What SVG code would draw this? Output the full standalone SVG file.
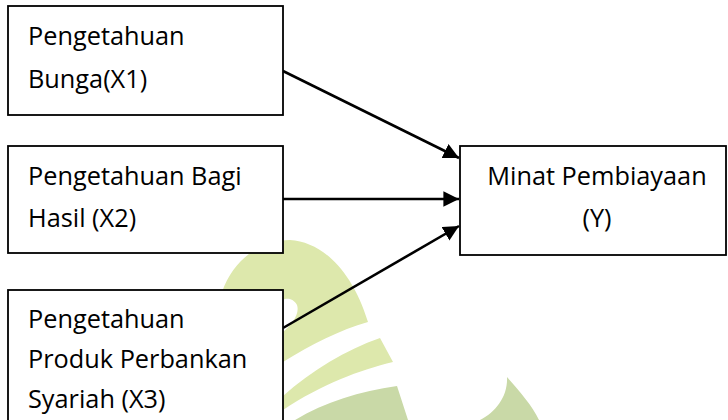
<svg xmlns="http://www.w3.org/2000/svg" width="728" height="420" viewBox="0 0 728 420">
<defs>
<style>
.box{fill:#ffffff;stroke:#000000;stroke-width:1.8}
.t{font-family:"Open Sans","Noto Sans","Liberation Sans",sans-serif;font-size:25.3px;fill:#000000}
.c{stroke:#000000;stroke-width:2.6;fill:none}
.wm1{fill:#dde8ac}
.wm2{fill:#c9d9a7}
</style>
<marker id="ah" viewBox="0 0 10 10" refX="10" refY="5" markerWidth="6" markerHeight="6" markerUnits="strokeWidth" orient="auto">
<path d="M0,0 L10,5 L0,10 Z" fill="#000000"/>
</marker>
</defs>
<rect width="728" height="420" fill="#ffffff"/>
<g id="watermark">
<path class="wm1" d="M222,292 C234,258 262,240 290,240 C322,242 352,270 368,322 C340,330 312,344 283,362 L283,332 C292,324 300,314 297,305 C293,298 286,298 283,300 Z"/>
<path class="wm1" d="M283,396 C312,370 346,350 380,338 L393,362 C360,370 322,384 283,410 Z"/>
<path class="wm2" d="M283,428 C315,405 355,392 397,386 L408,420 L283,420 Z"/>
<path class="wm2" d="M507,377 C520,392 532,405 539,420 L480,420 C496,412 508,396 507,377 Z"/>
</g>
<g id="connectors">
<line class="c" x1="283" y1="71" x2="459" y2="158" marker-end="url(#ah)"/>
<line class="c" x1="283" y1="199" x2="459" y2="199" marker-end="url(#ah)"/>
<line class="c" x1="283" y1="328" x2="459" y2="226" marker-end="url(#ah)"/>
</g>
<g id="x1">
<rect class="box" x="8" y="6" width="275" height="109"/>
<text class="t" x="28" y="45">Pengetahuan</text>
<text class="t" x="28" y="88">Bunga(X1)</text>
</g>
<g id="x2">
<rect class="box" x="8" y="146" width="275" height="107"/>
<text class="t" x="28" y="185">Pengetahuan Bagi</text>
<text class="t" x="28" y="227">Hasil (X2)</text>
</g>
<g id="x3">
<rect class="box" x="8" y="290" width="275" height="140"/>
<text class="t" x="28" y="328">Pengetahuan</text>
<text class="t" x="28" y="368">Produk Perbankan</text>
<text class="t" x="28" y="408">Syariah (X3)</text>
</g>
<g id="y">
<rect class="box" x="460" y="146" width="266" height="109"/>
<text class="t" x="597" y="185" text-anchor="middle">Minat Pembiayaan</text>
<text class="t" x="597" y="227" text-anchor="middle">(Y)</text>
</g>
</svg>
